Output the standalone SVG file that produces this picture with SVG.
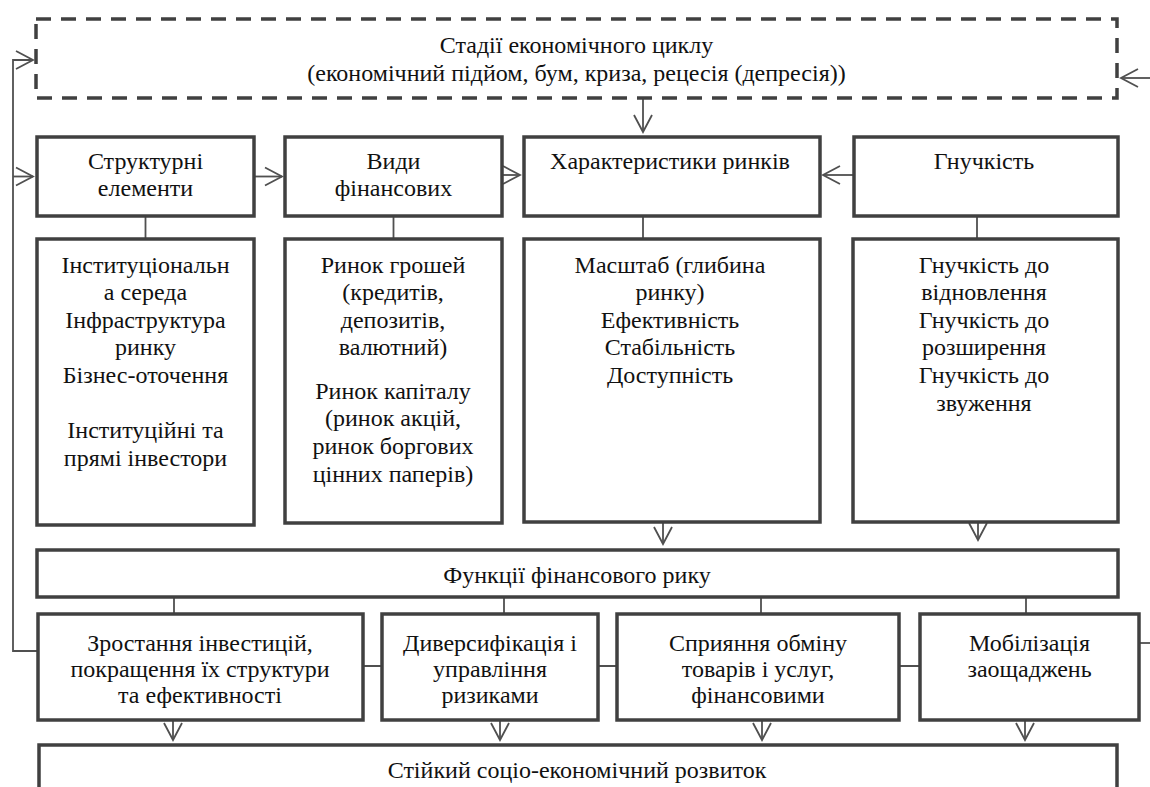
<svg xmlns="http://www.w3.org/2000/svg" width="1150" height="787" viewBox="0 0 1150 787">
<style>
.box{fill:#fff;stroke:#404040;stroke-width:3.5}
.dash{fill:none;stroke:#404040;stroke-width:3.5;stroke-dasharray:15 10}
.conn{fill:none;stroke:#505050;stroke-width:1.8}
.arr{marker-end:url(#ah)}
.t{font-family:"Liberation Serif","Times New Roman",serif;font-size:24px;fill:#111;text-anchor:middle}
</style>
<defs>
<marker id="ah" viewBox="-20 -12 24 24" markerWidth="24" markerHeight="24" refX="0" refY="0" orient="auto" markerUnits="userSpaceOnUse" overflow="visible">
<path d="M-17,-9 L0,0 L-17,9" fill="none" stroke="#505050" stroke-width="1.8"/>
</marker>
</defs>
<rect width="1150" height="787" fill="#fff"/>

<g id="connectors">
<path class="conn" d="M37,651 H13 V60 H33" marker-end="url(#ah)"/>
<path class="conn arr" d="M13,176.5 H33"/>
<path class="conn arr" d="M1150,78 H1121"/>
<path class="conn" d="M1139,643 H1150"/>
<path class="conn arr" d="M254,176.5 H282"/>
<path class="conn arr" d="M502,175 H520"/>
<path class="conn arr" d="M854,175 H823"/>
<path class="conn arr" d="M643,98 V132"/>
<path class="conn" d="M145.5,216 V239 M393.5,216 V239 M643,216 V239 M977,216 V239"/>
<path class="conn arr" d="M663,522 V544"/>
<path class="conn arr" d="M978,522 V540"/>
<path class="conn" d="M174,597 V614 M504,597 V614 M761,597 V614 M1026,597 V614"/>
<path class="conn" d="M363,666 H382 M598,666 H617 M899,666 H920"/>
<path class="conn arr" d="M173,720 V740"/>
<path class="conn arr" d="M500,720 V740"/>
<path class="conn arr" d="M762,720 V740"/>
<path class="conn arr" d="M1025,720 V740"/>
</g>

<g id="stages">
<rect class="dash" x="36" y="19" width="1081" height="79"/>
<text class="t" x="576.5" y="53.3">Стадії економічного циклу</text>
<text class="t" x="576.5" y="80.9">(економічний підйом, бум, криза, рецесія (депресія))</text>
</g>

<g id="structural">
<rect class="box" x="37" y="137" width="217" height="79"/>
<text class="t" x="145.5" y="168.5">Структурні<tspan x="145.5" dy="27.6">елементи</tspan></text>
</g>
<g id="types">
<rect class="box" x="285" y="137" width="217" height="79"/>
<text class="t" x="393.5" y="168.5">Види<tspan x="393.5" dy="27.6">фінансових</tspan></text>
</g>
<g id="characteristics">
<rect class="box" x="524" y="137" width="296" height="79"/>
<text class="t" x="670" y="168.5">Характеристики ринків</text>
</g>
<g id="flexibility">
<rect class="box" x="854" y="137" width="264" height="79"/>
<text class="t" x="984" y="168.5">Гнучкість</text>
</g>

<g id="structural-list">
<rect class="box" x="37" y="239" width="217" height="286"/>
<text class="t" x="145.5" y="272.5">Інституціональн<tspan x="145.5" dy="27.6">а середа</tspan><tspan x="145.5" dy="27.6">Інфраструктура</tspan><tspan x="145.5" dy="27.6">ринку</tspan><tspan x="145.5" dy="27.6">Бізнес-оточення</tspan><tspan x="145.5" dy="55.2">Інституційні та</tspan><tspan x="145.5" dy="27.6">прямі інвестори</tspan></text>
</g>
<g id="types-list">
<rect class="box" x="285" y="239" width="217" height="284"/>
<text class="t" x="393" y="272.5">Ринок грошей<tspan x="393" dy="27.6">(кредитів,</tspan><tspan x="393" dy="27.6">депозитів,</tspan><tspan x="393" dy="27.6">валютний)</tspan><tspan x="393" dy="43.5">Ринок капіталу</tspan><tspan x="393" dy="27.6">(ринок акцій,</tspan><tspan x="393" dy="27.6">ринок боргових</tspan><tspan x="393" dy="27.6">цінних паперів)</tspan></text>
</g>
<g id="characteristics-list">
<rect class="box" x="524" y="239" width="296" height="283"/>
<text class="t" x="670" y="272.5">Масштаб (глибина<tspan x="670" dy="27.6">ринку)</tspan><tspan x="670" dy="27.6">Ефективність</tspan><tspan x="670" dy="27.6">Стабільність</tspan><tspan x="670" dy="27.6">Доступність</tspan></text>
</g>
<g id="flexibility-list">
<rect class="box" x="853" y="239" width="265" height="283"/>
<text class="t" x="984" y="272.5">Гнучкість до<tspan x="984" dy="27.6">відновлення</tspan><tspan x="984" dy="27.6">Гнучкість до</tspan><tspan x="984" dy="27.6">розширення</tspan><tspan x="984" dy="27.6">Гнучкість до</tspan><tspan x="984" dy="27.6">звуження</tspan></text>
</g>

<g id="functions">
<rect class="box" x="37" y="550" width="1081" height="47"/>
<text class="t" x="577" y="583">Функції фінансового рику</text>
</g>

<g id="investment">
<rect class="box" x="38" y="614" width="325" height="106"/>
<text class="t" x="200" y="651">Зростання інвестицій,<tspan x="200" dy="26">покращення їх структури</tspan><tspan x="200" dy="26">та ефективності</tspan></text>
</g>
<g id="diversification">
<rect class="box" x="382" y="614" width="216" height="106"/>
<text class="t" x="490" y="651">Диверсифікація і<tspan x="490" dy="26">управління</tspan><tspan x="490" dy="26">ризиками</tspan></text>
</g>
<g id="exchange">
<rect class="box" x="617" y="614" width="282" height="106"/>
<text class="t" x="758" y="651">Сприяння обміну<tspan x="758" dy="26">товарів і услуг,</tspan><tspan x="758" dy="26">фінансовими</tspan></text>
</g>
<g id="savings">
<rect class="box" x="920" y="614" width="219" height="106"/>
<text class="t" x="1029.5" y="651">Мобілізація<tspan x="1029.5" dy="26">заощаджень</tspan></text>
</g>

<g id="development">
<rect class="box" x="39" y="745" width="1078" height="60"/>
<text class="t" x="577" y="778">Стійкий соціо-економічний розвиток</text>
</g>
</svg>
